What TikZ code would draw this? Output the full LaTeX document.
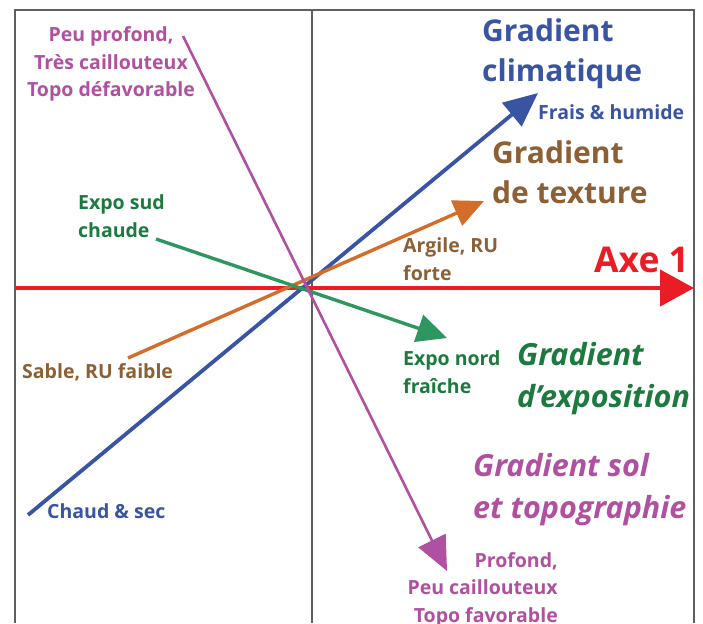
\documentclass[tikz,border=0pt]{standalone}
\usepackage{fontspec}
\setmainfont{Open Sans}
\usetikzlibrary{arrows.meta}
\definecolor{cblue}{RGB}{58,84,164}
\definecolor{cbrown}{RGB}{140,96,52}
\definecolor{corange}{RGB}{212,108,42}
\definecolor{cred}{RGB}{236,28,36}
\definecolor{cgreen}{RGB}{28,122,62}
\definecolor{cgreenl}{RGB}{46,150,94}
\definecolor{cmag}{RGB}{176,80,160}
\definecolor{cframe}{RGB}{95,95,95}
\begin{document}
\begin{tikzpicture}[x=1pt,y=-1pt,
  lbl/.style={inner sep=0pt,anchor=base west,font=\bfseries\fontsize{19.5}{27.5}\selectfont,align=left},
  big/.style={inner sep=0pt,anchor=base west,font=\bfseries\fontsize{30}{40}\selectfont,align=left},
  bigit/.style={inner sep=0pt,anchor=base west,font=\bfseries\itshape\fontsize{30.5}{42}\selectfont,align=left},
  frameline/.style={draw=cframe,line width=1.4pt},
]
\useasboundingbox (0,0) rectangle (703,623);
% frame
\coordinate (fbl) at (15,623);
\coordinate (ftl) at (15,10);
\coordinate (ftr) at (694,10);
\coordinate (fbr) at (694,623);
\coordinate (vt) at (312,10);
\coordinate (vb) at (312,623);
\draw[frameline] (fbl) -- (ftl) -- (ftr) -- (fbr);
\draw[frameline] (vt) -- (vb);
% vector end points
\coordinate (ax0) at (15,288);
\coordinate (ax1) at (694,288);
\coordinate (b0) at (28,515);
\coordinate (b1) at (538,93);
\coordinate (o0) at (128,358);
\coordinate (o1) at (484,201);
\coordinate (g0) at (156,239);
\coordinate (g1) at (447,338);
\coordinate (m0) at (183,36);
\coordinate (m1) at (447,571);
% vectors
\draw[line width=4.5pt,cred,-{Triangle[length=34pt,width=36pt]}] (ax0) -- (ax1);
\draw[line width=3.8pt,cblue,-{Triangle[length=34pt,width=30pt]}] (b0) -- (b1);
\draw[line width=3.4pt,corange,-{Triangle[length=30pt,width=27pt]}] (o0) -- (o1);
\draw[line width=3.4pt,cgreenl,-{Triangle[length=30pt,width=28pt]}] (g0) -- (g1);
\draw[line width=2.6pt,cmag,-{Triangle[length=34pt,width=30pt]}] (m0) -- (m1);
% labels (anchor = baseline of last line)
\node[big,text=cblue] (gclim) at (482,82) {Gradient\\climatique};
\node[lbl,text=cblue] (frais) at (538,120) {Frais \& humide};
\node[big,text=cbrown] (gtext) at (492,203) {Gradient\\de texture};
\node[lbl,text=cbrown] (argile) at (403,280) {Argile, RU\\forte};
\node[inner sep=0pt,anchor=base west,font=\bfseries\fontsize{35.5}{40}\selectfont,text=cred] (axe) at (594,272) {Axe 1};
\node[lbl,text=cgreen] (esud) at (78,237) {Expo sud\\chaude};
\node[lbl,text=cbrown] (sable) at (22,378) {Sable, RU faible};
\node[lbl,text=cblue] (chaud) at (47,518) {Chaud \& sec};
\node[lbl,text=cgreen] (enord) at (403,393) {Expo nord\\fraîche};
\node[bigit,text=cgreen] (gexpo) at (517,407) {Gradient\\d’exposition};
\node[bigit,text=cmag] (gsol) at (473,518) {Gradient sol\\et topographie};
\node[lbl,text=cmag,align=center,anchor=base] (peu) at (111,97) {Peu profond,\\Très caillouteux\\Topo défavorable};
\node[lbl,text=cmag,align=right,anchor=base east] (prof) at (558,622) {Profond,\\Peu caillouteux\\Topo favorable};
\end{tikzpicture}
\end{document}
